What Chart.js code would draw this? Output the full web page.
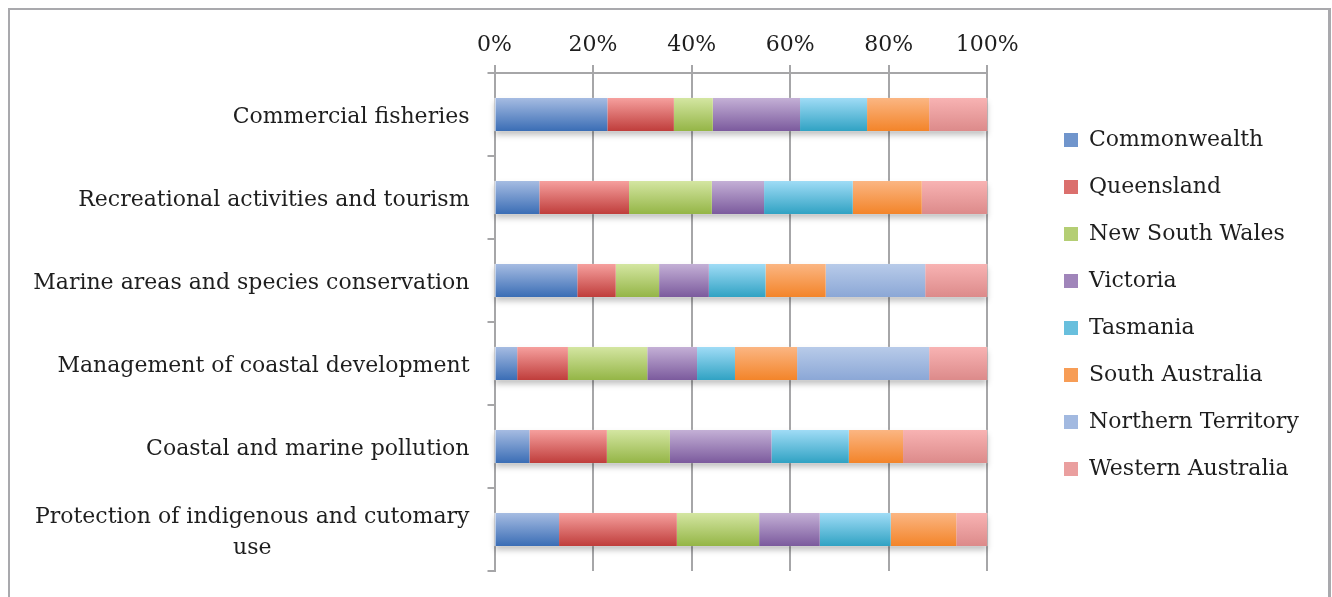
<!DOCTYPE html>
<html>
<head>
<meta charset="utf-8">
<script src="https://cdn.jsdelivr.net/npm/chart.js@4.4.0/dist/chart.umd.min.js"></script>
<style>
	html, body { margin: 0; padding: 0; background: #fff; }
	#frame {
		position: absolute; left: 8px; top: 8px; width: 1318px; height: 640px;
		border: 2px solid #a9a9ad; border-right-width: 3px;
	}
	#wrap { position: absolute; left: 0; top: 0; width: 1332px; height: 597px; }
</style>
</head>
<body>
<div id="frame"></div>
<div id="wrap"><canvas id="chart"></canvas></div>
<script>
const CATEGORIES = [
	'Commercial fisheries',
	'Recreational activities and tourism',
	'Marine areas and species conservation',
	'Management of coastal development',
	'Coastal and marine pollution',
	['Protection of indigenous and cutomary', 'use'],
]

const SERIES_NAMES = [
	'Commonwealth',
	'Queensland',
	'New South Wales',
	'Victoria',
	'Tasmania',
	'South Australia',
	'Northern Territory',
	'Western Australia',
]

// share of each row, in percent
const commonwealth = [22.9, 9.1, 16.8, 4.6, 7.1, 13.1]
const queensland = [13.5, 18.2, 7.8, 10.3, 15.7, 23.9]
const new_south_wales = [7.9, 16.8, 8.8, 16.1, 12.8, 16.7]
const victoria = [17.7, 10.6, 10.1, 10.1, 20.6, 12.3]
const tasmania = [13.6, 18.0, 11.5, 7.7, 15.7, 14.4]
const south_australia = [12.6, 14.0, 12.2, 12.6, 11.0, 13.3]
const northern_territory = [0, 0, 20.2, 26.8, 0, 0]
const western_australia = [11.8, 13.3, 12.6, 11.8, 17.1, 6.3]

const X_TICKS = [0, 20, 40, 60, 80, 100]

// top / bottom of the gradient on each bar
const COLOURS = [
	['#a6bce2', '#3a6db5'],
	['#f6a09e', '#bf3d3b'],
	['#d4e6a2', '#94b546'],
	['#c4b0d6', '#7b5a9d'],
	['#a0dcf6', '#30a2c3'],
	['#fbb683', '#f38429'],
	['#b8cbe9', '#8ba7d6'],
	['#f8b3b3', '#dc8a8a'],
]

const SERIES = [
	commonwealth, queensland, new_south_wales, victoria,
	tasmania, south_australia, northern_territory, western_australia,
]

const FONT_FAMILY = '"DejaVu Serif", serif'
const FONT_SIZE = 22
const TEXT_COLOUR = '#1e1e1e'
const GRID_COLOUR = '#a6a6a8'
const BAR_PERCENT = 0.4
const Y_TICK_LENGTH = 7
const LABEL_GAP = 18
const LINE_HEIGHT = 31
const LABEL_NUDGE = 3
const PLOT_RIGHT = 987.3
const LEGEND_BOX_X = 1064
const LEGEND_PADDING = 25
const LEGEND_BOX = 14

function mix (a, b) {
	const pa = parseInt(a.slice(1), 16)
	const pb = parseInt(b.slice(1), 16)
	const ch = [16, 8, 0].map(s => Math.round((((pa >> s) & 255) + ((pb >> s) & 255)) / 2))
	return `rgb(${ch.join(',')})`
}

function bar_fill (series_idx) {
	return function (context) {
		const [ top, bottom ] = COLOURS[series_idx]
		const chart = context.chart
		const y_scale = chart.scales.y
		if (!chart.chartArea || !y_scale || context.dataIndex === undefined) return mix(top, bottom)
		const center = y_scale.getPixelForValue(context.dataIndex)
		const half = y_scale.height / CATEGORIES.length * BAR_PERCENT / 2
		const gradient = chart.ctx.createLinearGradient(0, center - half, 0, center + half)
		gradient.addColorStop(0, top)
		gradient.addColorStop(1, bottom)
		return gradient
	}
}

// soft drop shadow under each whole row, drawn before the segments
const bar_shadow = {
	id: 'bar_shadow',
	beforeDatasetsDraw (chart) {
		const { ctx, scales: { x } } = chart
		const left = x.getPixelForValue(0)
		const right = x.getPixelForValue(100)
		ctx.save()
		ctx.shadowColor = 'rgba(0, 0, 0, 0.25)'
		ctx.shadowBlur = 6
		ctx.shadowOffsetY = 4
		ctx.fillStyle = '#fff'
		for (const bar of chart.getDatasetMeta(0).data) {
			ctx.fillRect(left, bar.y - bar.height / 2, right - left, bar.height)
		}
		ctx.restore()
	},
}

// category names: right aligned, wrapped lines centred on each other
const category_labels = {
	id: 'category_labels',
	afterDraw (chart) {
		const { ctx, scales: { y } } = chart
		ctx.save()
		ctx.font = `${FONT_SIZE}px ${FONT_FAMILY}`
		ctx.fillStyle = TEXT_COLOUR
		ctx.textAlign = 'center'
		ctx.textBaseline = 'middle'
		const right = y.right - Y_TICK_LENGTH - LABEL_GAP
		CATEGORIES.forEach(function (label, idx) {
			const lines = [].concat(label)
			const widest = Math.max(...lines.map(l => ctx.measureText(l).width))
			const center_y = y.getPixelForValue(idx) + LABEL_NUDGE
			lines.forEach(function (line, n) {
				const dy = (n - (lines.length - 1) / 2) * LINE_HEIGHT
				ctx.fillText(line, right - widest / 2, center_y + dy)
			})
		})
		ctx.restore()
	},
}

// work out right padding so the legend swatches land where they should
const measure = document.createElement('canvas').getContext('2d')
measure.font = `${FONT_SIZE}px ${FONT_FAMILY}`
const widest_name = Math.max(...SERIES_NAMES.map(n => measure.measureText(n).width))
const legend_width = LEGEND_PADDING + LEGEND_BOX + FONT_SIZE / 2 + widest_name + 10
const pad_right = Math.max(4, 1332 - (LEGEND_BOX_X - LEGEND_PADDING) - legend_width)

const font = { family: FONT_FAMILY, size: FONT_SIZE }

new Chart(document.getElementById('chart'), {
	type: 'bar',
	data: {
		labels: CATEGORIES,
		datasets: SERIES.map((values, idx) => ({
			label: SERIES_NAMES[idx],
			data: values,
			backgroundColor: bar_fill(idx),
			borderWidth: 0,
			barPercentage: BAR_PERCENT,
			categoryPercentage: 1,
		})),
	},
	options: {
		indexAxis: 'y',
		responsive: true,
		maintainAspectRatio: false,
		animation: false,
		layout: { padding: { top: 12, left: 10, right: pad_right, bottom: 0 } },
		scales: {
			x: {
				position: 'top',
				stacked: true,
				min: 0,
				max: 100,
				grid: { color: GRID_COLOUR, lineWidth: 2, drawTicks: true, tickLength: 8 },
				border: { display: true, color: GRID_COLOUR, width: 2 },
				ticks: { font, color: TEXT_COLOUR, padding: 7, callback: v => v + '%' },
				afterBuildTicks (scale) { scale.ticks = X_TICKS.map(v => ({ value: v })) },
				afterFit (scale) { scale.height = 61 },
			},
			y: {
				stacked: true,
				grid: {
					offset: true, drawOnChartArea: false, drawTicks: true,
					tickLength: Y_TICK_LENGTH, color: GRID_COLOUR, lineWidth: 2,
				},
				border: { display: true, color: GRID_COLOUR, width: 2 },
				ticks: { display: false },
				afterFit (scale) { scale.width = 484.5 },
			},
			gap_right: {
				type: 'linear',
				position: 'right',
				grid: { display: false },
				border: { display: false },
				ticks: { display: false },
				afterFit (scale) {
					const chart = scale.chart
					scale.width = Math.max(0, chart.width - pad_right - chart.legend.width - PLOT_RIGHT)
				},
			},
			gap_bottom: {
				type: 'linear',
				position: 'bottom',
				grid: { display: false },
				border: { display: false },
				ticks: { display: false },
				afterFit (scale) { scale.height = 26 },
			},
		},
		plugins: {
			tooltip: { enabled: false },
			legend: {
				position: 'right',
				align: 'center',
				maxWidth: 420,
				labels: {
					font,
					color: TEXT_COLOUR,
					boxWidth: LEGEND_BOX,
					boxHeight: LEGEND_BOX,
					padding: LEGEND_PADDING,
					generateLabels: () => SERIES_NAMES.map((name, idx) => ({
						text: name,
						fillStyle: mix(COLOURS[idx][0], COLOURS[idx][1]),
						strokeStyle: mix(COLOURS[idx][0], COLOURS[idx][1]),
						lineWidth: 0,
						fontColor: TEXT_COLOUR,
						datasetIndex: idx,
						hidden: false,
					})),
				},
			},
		},
	},
	plugins: [bar_shadow, category_labels],
})
</script>
</body>
</html>
